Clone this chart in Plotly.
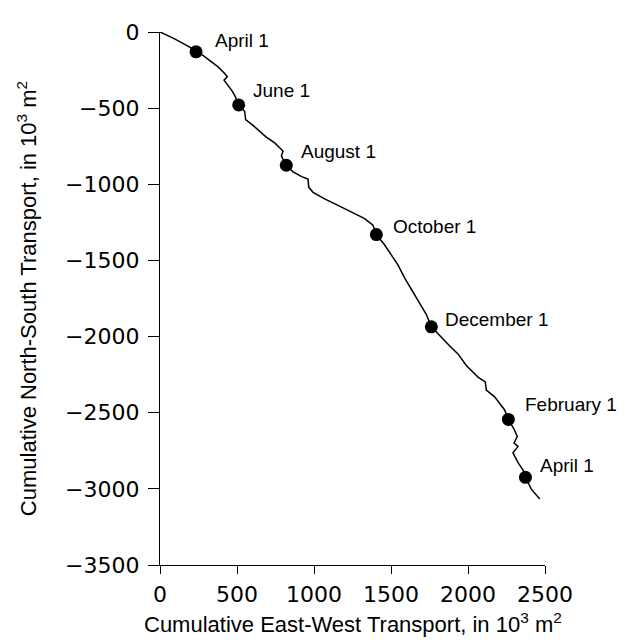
import plotly.graph_objects as go

# Cumulative transport path (10^3 m^2)
path_x = [0, 95, 193, 234, 279, 330, 377, 420, 437, 416, 442, 470, 489, 511, 550, 556, 600, 636, 690, 745, 799, 788, 820,
          864, 920, 961, 966, 994, 1069, 1156, 1242, 1329, 1383, 1405, 1459, 1500, 1545, 1589, 1654, 1700, 1729, 1762,
          1827, 1880, 1935, 1989, 2065, 2112, 2119, 2173, 2238, 2262, 2300, 2320, 2299, 2325, 2292, 2325, 2368, 2373,
          2411, 2466]
path_y = [0, -45, -99, -130, -154, -190, -229, -273, -294, -316, -349, -390, -424, -479, -522, -576, -610, -641, -690, -728,
          -782, -814, -875, -918, -950, -966, -1020, -1053, -1096, -1139, -1183, -1226, -1269, -1330, -1399, -1460, -1529,
          -1616, -1724, -1800, -1854, -1936, -2006, -2060, -2114, -2190, -2266, -2298, -2352, -2396, -2482, -2544, -2610,
          -2656, -2699, -2721, -2763, -2828, -2893, -2924, -3002, -3067]

# Dated points
date_labels = ["April 1", "June 1", "August 1", "October 1", "December 1", "February 1", "April 1"]
date_x = [234, 511, 820, 1405, 1762, 2262, 2373]
date_y = [-130, -479, -875, -1330, -1936, -2544, -2924]
label_dx = [17, 12, 13, 15, 12, 15, 13]
label_dy = [11, 14, 14, 8, 7, 15, 12]

x_ticks = [0, 500, 1000, 1500, 2000, 2500]
y_ticks = [0, -500, -1000, -1500, -2000, -2500, -3000, -3500]

fig = go.Figure()
fig.add_trace(go.Scatter(x=path_x, y=path_y, mode="lines",
                         line=dict(color="black", width=1.5), hoverinfo="skip"))
fig.add_trace(go.Scatter(x=date_x, y=date_y, mode="markers",
                         marker=dict(color="black", size=13), hoverinfo="skip"))

for lab, x, y, dx, dy in zip(date_labels, date_x, date_y, label_dx, label_dy):
    fig.add_annotation(x=x, y=y, text=lab, showarrow=False, xanchor="left", yanchor="middle",
                       xshift=dx, yshift=dy, font=dict(family="Liberation Sans, Arial", size=19, color="black"))

fig.add_annotation(x=0.5, y=-0.108, xref="paper", yref="paper", yanchor="middle", xanchor="center",
                   text="Cumulative East-West Transport, in 10<sup>3</sup> m<sup>2</sup>", showarrow=False,
                   font=dict(family="Liberation Sans, Arial", size=22, color="black"))

fig.update_layout(
    width=625, height=642,
    margin=dict(l=152, r=88, t=18, b=85),
    paper_bgcolor="white", plot_bgcolor="white",
    showlegend=False,
    xaxis=dict(range=[0, 2500], tickvals=x_ticks, showline=True, linecolor="black", linewidth=1.2,
               ticks="outside", ticklen=8, tickcolor="black", showgrid=False, zeroline=False,
               ticklabelstandoff=1,
               tickfont=dict(family="DejaVu Sans", size=22, color="black")),
    yaxis=dict(range=[-3500, 0], tickvals=y_ticks, showline=True, linecolor="black", linewidth=1.2,
               ticks="outside", ticklen=11, tickcolor="black", showgrid=False, zeroline=False,
               ticklabelstandoff=4,
               tickfont=dict(family="DejaVu Sans", size=22, color="black"),
               title=dict(text="Cumulative North-South Transport, in 10<sup>3</sup> m<sup>2</sup>",
                          font=dict(family="Liberation Sans, Arial", size=22, color="black"), standoff=22)),
)

fig.write_html("out.html")
